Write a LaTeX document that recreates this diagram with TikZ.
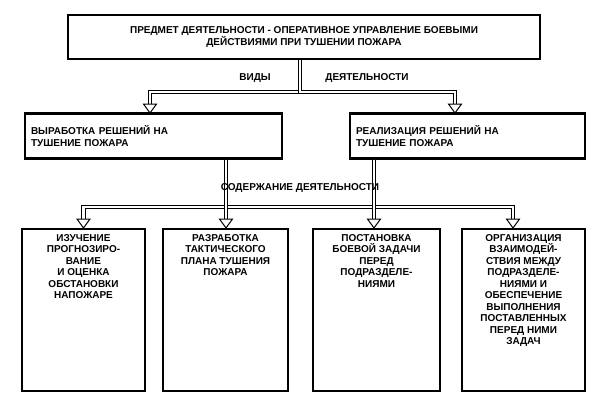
\documentclass[tikz,border=0pt]{standalone}
\usepackage{fontspec}
\setmainfont{Liberation Sans}
\begin{document}
\begin{tikzpicture}[x=1pt,y=-1pt,
  box/.style={draw, line width=2.2pt, inner sep=2pt, font=\bfseries\fontsize{10}{11.5}\selectfont, align=center},
  dbl/.style={double, double distance=2.6pt, line width=1pt},
  lbl/.style={font=\bfseries\fontsize{10}{11.5}\selectfont}]
\useasboundingbox (0,0) rectangle (600,402);
\node[box, minimum width=472pt, minimum height=44pt] (top) at (304,37) {ПРЕДМЕТ ДЕЯТЕЛЬНОСТИ - ОПЕРАТИВНОЕ УПРАВЛЕНИЕ БОЕВЫМИ\\ДЕЙСТВИЯМИ ПРИ ТУШЕНИИ ПОЖАРА};
\node[box, minimum width=257pt, minimum height=45pt, align=left, text width=245pt] (l2) at (153.5,136) {ВЫРАБОТКА РЕШЕНИЙ НА\\ТУШЕНИЕ ПОЖАРА};
\node[box, minimum width=235pt, minimum height=45pt, align=left, text width=223pt] (r2) at (467.5,136) {РЕАЛИЗАЦИЯ РЕШЕНИЙ НА\\ТУШЕНИЕ ПОЖАРА};
\foreach \n/\x/\w/\t in {b1/83.5/119pt/{ИЗУЧЕНИЕ\\ПРОГНОЗИРО-\\ВАНИЕ\\И ОЦЕНКА\\ОБСТАНОВКИ\\НАПОЖАРЕ},
  b2/225.5/121pt/{РАЗРАБОТКА\\ТАКТИЧЕСКОГО\\ПЛАНА ТУШЕНИЯ\\ПОЖАРА},
  b3/376.5/123pt/{ПОСТАНОВКА\\БОЕВОЙ ЗАДАЧИ\\ПЕРЕД\\ПОДРАЗДЕЛЕ-\\НИЯМИ},
  b4/523.5/119pt/{ОРГАНИЗАЦИЯ\\ВЗАИМОДЕЙ-\\СТВИЯ МЕЖДУ\\ПОДРАЗДЕЛЕ-\\НИЯМИ И\\ОБЕСПЕЧЕНИЕ\\ВЫПОЛНЕНИЯ\\ПОСТАВЛЕННЫХ\\ПЕРЕД НИМИ\\ЗАДАЧ}}
  \node[box, anchor=north] (\n) at (\x,228) {\parbox[t][158pt][t]{\w}{\centering\vspace{3pt}\t}};
\coordinate (t1) at (300,92);
\coordinate (t2) at (226,207);
\coordinate (t3) at (374,207);
\draw[dbl] (top.south -| t1) -- (t1) -| (150,104);
\draw[dbl] (top.south -| t1) -- (t1) -| (455,104);
\draw[dbl] (l2.south -| t2) -- (t2) -| (83.5,220);
\draw[dbl] (r2.south -| t3) -- (t3) -| (513,220);
\draw[dbl] (t2) -- (t3);
\draw[dbl] (l2.south -| t2) -- (226,220);
\draw[dbl] (r2.south -| t3) -- (374,220);
\foreach \x/\y in {150/113, 455/113, 83.5/228, 226/228, 374/228, 513/228}
  \draw[line width=1pt, fill=white] (\x-6.5,\y-9) -- (\x+6.5,\y-9) -- (\x,\y) -- cycle;
\node[lbl] (v1) at (255,78) {ВИДЫ};
\node[lbl] (v2) at (367,78) {ДЕЯТЕЛЬНОСТИ};
\node[lbl] (s1) at (300,188) {СОДЕРЖАНИЕ ДЕЯТЕЛЬНОСТИ};
\end{tikzpicture}
\end{document}
